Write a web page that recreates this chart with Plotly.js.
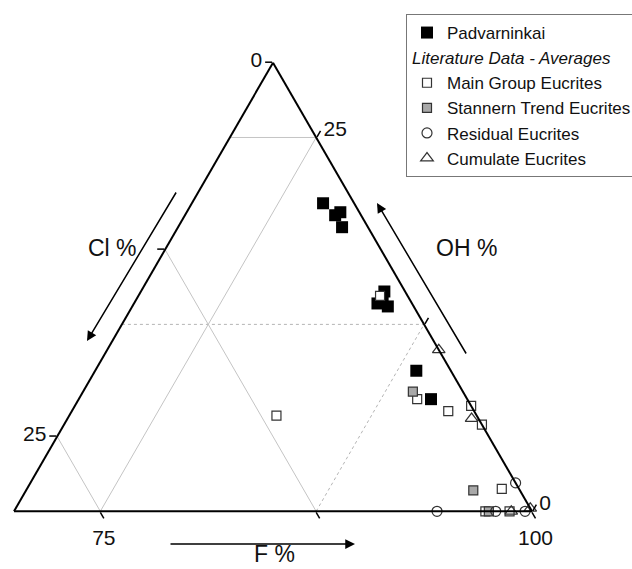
<!DOCTYPE html>
<html><head><meta charset="utf-8">
<script src="https://cdn.plot.ly/plotly-3.0.1.min.js"></script>
<style>html,body{margin:0;padding:0;background:#fff}#chart{width:632px;height:569px}</style>
</head><body><div id="chart"></div><script>
// ---- data (a = OH %, b = Cl %, c = F %) ----
const padOH = [20.6, 19.8, 20.0, 19.0, 14.7, 13.9, 14.1, 13.7, 9.4, 7.5];
const padCl = [1.8, 1.5, 1.1, 1.5, 1.2, 2.0, 1.6, 1.5, 2.0, 2.1];
const padF  = [77.6, 78.7, 78.9, 79.5, 84.1, 84.1, 84.3, 84.8, 88.6, 90.4];

const mainOH = [14.4, 7.5, 6.7, 7.05, 5.8, 1.5, 6.4, 0, 0];
const mainCl = [1.6, 2.9, 1.5, 0, 0, 1.0, 11.6, 2.7, 1.3];
const mainF  = [84.0, 89.6, 91.8, 92.95, 94.2, 97.5, 82.0, 97.3, 98.7];

const stanOH = [8.0, 1.4, 0];
const stanCl = [2.9, 2.7, 2.5];
const stanF  = [89.1, 95.9, 97.5];

const resOH = [1.9, 0, 0, 0];
const resCl = [0, 5.5, 2.1, 0.4];
const resF  = [98.1, 94.5, 97.9, 99.6];

const cumOH = [10.8, 6.2, 0, 0.2];
const cumCl = [0, 0.4, 1.2, 0];
const cumF  = [89.2, 93.4, 98.8, 99.8];

// tick values and labels as read along each edge
const clTicks = [0, 12.5, 25];   const clLabels = ['0', '', '25'];     // left edge
const fTicks  = [75, 87.5, 100]; const fLabels  = ['75', '', '100'];   // bottom edge
const ohTicks = [25, 12.5, 0];   const ohLabels = ['25', '', '0'];     // right edge

const seriesNames = ['Padvarninkai', 'Main Group Eucrites', 'Stannern Trend Eucrites', 'Residual Eucrites', 'Cumulate Eucrites'];
const groupTitle = 'Literature Data - Averages';

// ---- ternary window ----
const total = 100, fMin = 70, span = total - fMin;

// grid levels
const gridOH = [25, 12.5], gridCl = [25, 12.5], gridF = [75, 87.5];
const dottedOH = [12.5], dottedF = [87.5];

function gridLine(axis, v) {
  if (axis === 'OH') return {a: [v, v], b: [span - v, 0], c: [fMin, total - v]};
  if (axis === 'Cl') return {a: [span - v, 0], b: [v, v], c: [fMin, total - v]};
  return {a: [0, total - v], b: [total - v, 0], c: [v, v]};
}

const traces = [];
function addGrid(axis, levels, dotted) {
  levels.forEach(v => {
    const g = gridLine(axis, v);
    const isDot = dotted.indexOf(v) >= 0;
    traces.push({type: 'scatterternary', mode: 'lines', a: g.a, b: g.b, c: g.c,
      line: {color: isDot ? '#b4b4b4' : '#c4c4c4', width: 1, dash: isDot ? 'dot' : 'solid'},
      hoverinfo: 'skip', showlegend: false, cliponaxis: false});
  });
}
addGrid('OH', gridOH, dottedOH);
addGrid('Cl', gridCl, []);
addGrid('F', gridF, dottedF);

traces.push({type: 'scatterternary', mode: 'markers', name: seriesNames[0], legendgroup: 'pad',
  a: padOH, b: padCl, c: padF, cliponaxis: false,
  marker: {symbol: 'square', size: 12, color: '#000', line: {color: '#000', width: 0}}});
traces.push({type: 'scatterternary', mode: 'markers', name: seriesNames[1], legendgroup: 'lit',
  legendgrouptitle: {text: groupTitle, font: {size: 17, style: 'italic', color: '#111'}},
  a: mainOH, b: mainCl, c: mainF, cliponaxis: false,
  marker: {symbol: 'square', size: 9, color: '#fff', line: {color: '#333', width: 1.2}}});
traces.push({type: 'scatterternary', mode: 'markers', name: seriesNames[2], legendgroup: 'lit',
  a: stanOH, b: stanCl, c: stanF, cliponaxis: false,
  marker: {symbol: 'square', size: 9, color: '#a8a8a8', line: {color: '#333', width: 1.2}}});
traces.push({type: 'scatterternary', mode: 'markers', name: seriesNames[3], legendgroup: 'lit',
  a: resOH, b: resCl, c: resF, cliponaxis: false,
  marker: {symbol: 'circle-open', size: 10, color: '#333', line: {color: '#333', width: 1.2}}});
traces.push({type: 'scatterternary', mode: 'markers', name: seriesNames[4], legendgroup: 'lit',
  a: cumOH, b: cumCl, c: cumF, cliponaxis: false,
  marker: {symbol: 'triangle-up-open', size: 11, color: '#333', line: {color: '#333', width: 1.2}}});

const axisCommon = {
  showgrid: false, linecolor: '#000', linewidth: 2, ticks: 'outside', ticklen: 7,
  tickwidth: 1.5, tickcolor: '#000', title: {text: ''},
  tickfont: {size: 21, color: '#111', family: 'Liberation Sans, Arial, sans-serif'}
};

const W = 632, H = 569;
const px = x => x / W, py = y => 1 - y / H;
const font = 'Liberation Sans, Arial, sans-serif';

const layout = {
  width: W, height: H,
  margin: {l: 0, r: 0, t: 0, b: 0, autoexpand: false},
  paper_bgcolor: '#fff',
  font: {family: font, color: '#111'},
  hovermode: false,
  ternary: {
    sum: total,
    domain: {x: [14 / W, 532 / W], y: [0.1, 0.8912]},
    bgcolor: '#fff',
    aaxis: Object.assign({}, axisCommon, {min: 0,
      tickvals: clTicks.map(v => span - v), ticktext: clLabels}),
    baxis: Object.assign({}, axisCommon, {min: 0,
      tickvals: fTicks.map(v => total - v), ticktext: fLabels}),
    caxis: Object.assign({}, axisCommon, {min: fMin,
      tickvals: ohTicks.map(v => total - v), ticktext: ohLabels})
  },
  legend: {
    x: px(406), y: py(14), xanchor: 'left', yanchor: 'top',
    bgcolor: '#fff', bordercolor: '#777', borderwidth: 1,
    font: {size: 17, family: font, color: '#111'},
    traceorder: 'grouped', tracegroupgap: 0
  },
  annotations: [
    {xref: 'paper', yref: 'paper', x: px(87), y: py(341), ax: 177 - 87, ay: 191 - 341,
     text: '', showarrow: true, arrowhead: 2, arrowsize: 1.3, arrowwidth: 1.5, arrowcolor: '#000'},
    {xref: 'paper', yref: 'paper', x: px(377), y: py(203), ax: 467 - 377, ay: 355 - 203,
     text: '', showarrow: true, arrowhead: 2, arrowsize: 1.3, arrowwidth: 1.5, arrowcolor: '#000'},
    {xref: 'paper', yref: 'paper', x: px(355), y: py(544), ax: 169 - 355, ay: 0,
     text: '', showarrow: true, arrowhead: 2, arrowsize: 1.3, arrowwidth: 1.5, arrowcolor: '#000'},
    {xref: 'paper', yref: 'paper', x: px(112), y: py(248), text: 'Cl %', showarrow: false,
     xanchor: 'center', yanchor: 'middle', font: {size: 23, color: '#111'}},
    {xref: 'paper', yref: 'paper', x: px(466), y: py(248), text: 'OH %', showarrow: false,
     xanchor: 'center', yanchor: 'middle', font: {size: 23, color: '#111'}},
    {xref: 'paper', yref: 'paper', x: px(274), y: py(554), text: 'F %', showarrow: false,
     xanchor: 'center', yanchor: 'middle', font: {size: 23, color: '#111'}}
  ]
};

Plotly.newPlot('chart', traces, layout, {displayModeBar: false, staticPlot: true});
</script></body></html>
